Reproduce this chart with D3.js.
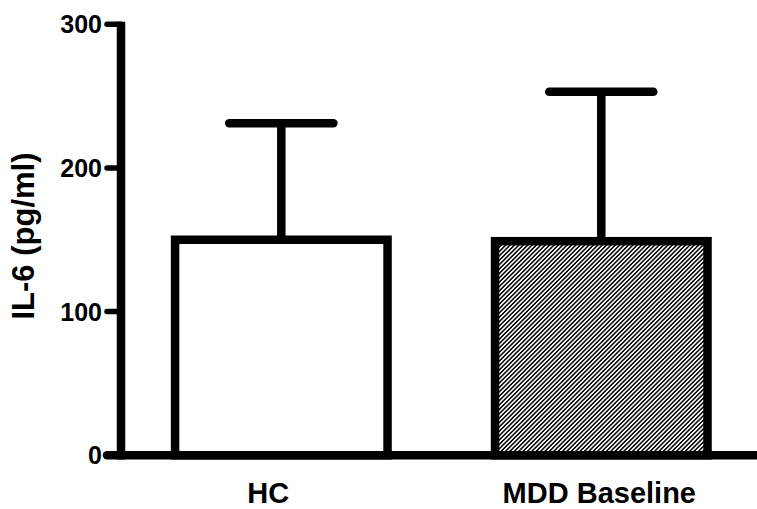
<!DOCTYPE html>
<html>
<head>
<meta charset="utf-8">
<script src="https://cdn.jsdelivr.net/npm/d3@7"></script>
<style>
  html, body { margin: 0; padding: 0; background: #fff; }
  svg { display: block; }
  text { font-family: "Liberation Sans", Arial, sans-serif; font-weight: bold; fill: #000; }
</style>
</head>
<body>
<svg id="chart" width="757" height="509"></svg>
<script>
// IL-6 concentration by group (mean with SD upper error bar)
const groups = ["HC", "MDD Baseline"];
const means = [150, 149];
const errorTops = [231, 253];
const yTicks = [0, 100, 200, 300];
const yTitle = "IL-6 (pg/ml)";

const W = 757, H = 509;
const svg = d3.select("#chart");

const defs = svg.append("defs");
const hatch = defs.append("pattern")
  .attr("id", "hatch")
  .attr("patternUnits", "userSpaceOnUse")
  .attr("width", 3.1)
  .attr("height", 3.1)
  .attr("patternTransform", "rotate(45)");
hatch.append("rect").attr("width", 3.1).attr("height", 3.1).attr("fill", "#fff");
hatch.append("line")
  .attr("x1", 0.8).attr("y1", 0).attr("x2", 0.8).attr("y2", 3.1)
  .attr("stroke", "#000").attr("stroke-width", 1.5);

const axisX = 121;
const y = d3.scaleLinear().domain([0, 300]).range([455.3, 24.2]);
const x = d3.scaleBand()
  .domain(groups)
  .range([axisX, 761.6])
  .paddingInner(0.336)
  .paddingOuter(0.169);

const fills = ["#fff", "url(#hatch)"];
const SW = 8.5;

// bars
svg.append("g").selectAll("rect")
  .data(groups)
  .join("rect")
  .attr("x", d => x(d))
  .attr("y", (d, i) => y(means[i]))
  .attr("width", x.bandwidth())
  .attr("height", (d, i) => y(0) - y(means[i]))
  .attr("fill", (d, i) => fills[i])
  .attr("stroke", "#000")
  .attr("stroke-width", SW);

// error bars
const capHalf = x.bandwidth() * 0.245;
const eb = svg.append("g").attr("stroke", "#000").attr("stroke-linecap", "round");
groups.forEach((g, i) => {
  const cx = x(g) + x.bandwidth() / 2;
  eb.append("line")
    .attr("x1", cx).attr("x2", cx)
    .attr("y1", y(means[i])).attr("y2", y(errorTops[i]))
    .attr("stroke-width", SW)
    .attr("stroke-linecap", "butt");
  eb.append("line")
    .attr("x1", cx - capHalf).attr("x2", cx + capHalf)
    .attr("y1", y(errorTops[i])).attr("y2", y(errorTops[i]))
    .attr("stroke-width", SW);
});

// axes
const ax = svg.append("g").attr("stroke", "#000");
ax.append("line")
  .attr("x1", axisX).attr("x2", axisX)
  .attr("y1", y(300) - 2.5).attr("y2", y(0) + SW / 2)
  .attr("stroke-width", SW);
ax.append("line")
  .attr("x1", 107).attr("x2", x.range()[1])
  .attr("y1", y(0)).attr("y2", y(0))
  .attr("stroke-width", SW)
  .attr("stroke-linecap", "round");
ax.selectAll("line.tick")
  .data(yTicks.filter(t => t > 0))
  .join("line")
  .attr("class", "tick")
  .attr("x1", 107).attr("x2", axisX)
  .attr("y1", d => y(d)).attr("y2", d => y(d))
  .attr("stroke-width", 5.5)
  .attr("stroke-linecap", "round");

svg.append("g").selectAll("text")
  .data(yTicks)
  .join("text")
  .attr("x", 102)
  .attr("y", d => y(d))
  .attr("dy", "0.36em")
  .attr("text-anchor", "end")
  .attr("font-size", 25)
  .text(d => d);

// category labels; the first sits a little left of its bar centre
const labelShift = [-13, -2];
svg.append("g").selectAll("text")
  .data(groups)
  .join("text")
  .attr("x", (d, i) => x(d) + x.bandwidth() / 2 + labelShift[i])
  .attr("y", 503)
  .attr("text-anchor", "middle")
  .attr("font-size", 29)
  .text(d => d);

svg.append("text")
  .attr("transform", "translate(34,236) rotate(-90)")
  .attr("text-anchor", "middle")
  .attr("font-size", 31)
  .text(yTitle);
</script>
</body>
</html>
